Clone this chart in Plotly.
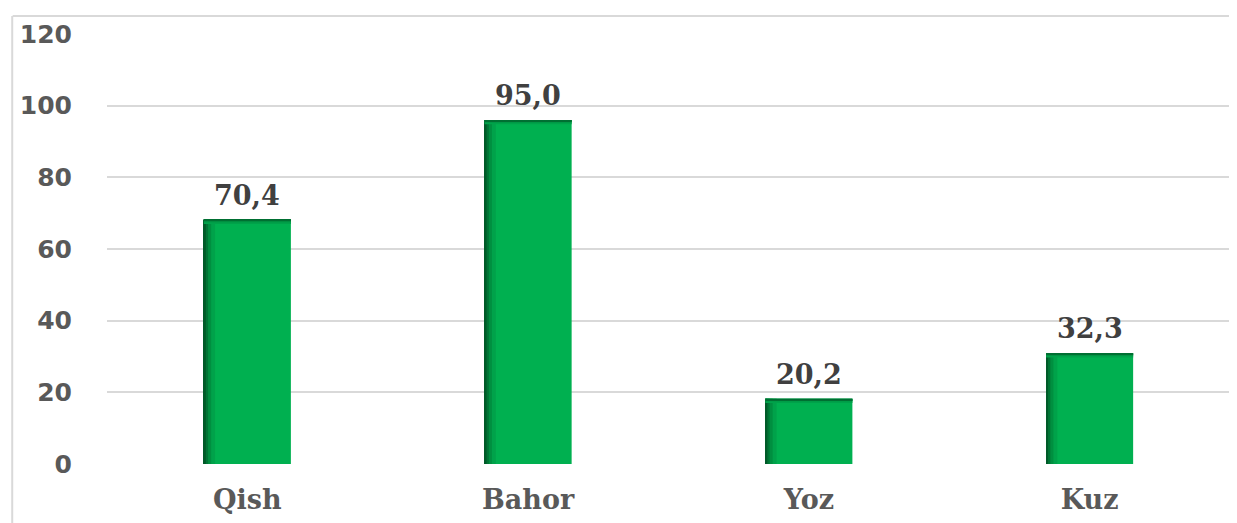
import plotly.graph_objects as go

categories = ["Qish", "Bahor", "Yoz", "Kuz"]
bar_values = [68.2, 96.0, 18.2, 30.9]
label_texts = ["70,4", "95,0", "20,2", "32,3"]
y_ticks = [0, 20, 40, 60, 80, 100, 120]

GREEN = "#00B050"
W = 0.31

fig = go.Figure()

# main bars
fig.add_trace(go.Bar(
    x=categories, y=bar_values, width=W, offset=-W / 2,
    marker=dict(color=GREEN, line=dict(width=0)),
    hoverinfo="skip",
))

# left edge shading (inner shadow)
for wd, col in [(0.040, "#00a24a"), (0.026, "#008f40"), (0.015, "#007535"), (0.007, "#005a28")]:
    fig.add_trace(go.Bar(
        x=categories, y=bar_values, width=wd, offset=-W / 2,
        marker=dict(color=col, line=dict(width=0)), hoverinfo="skip",
    ))

# top edge shading
for depth, col in [(1.2, "#00a24a"), (0.7, "#008f40"), (0.35, "#006f32")]:
    fig.add_trace(go.Bar(
        x=categories, y=[depth] * len(bar_values),
        base=[v - depth for v in bar_values], width=W, offset=-W / 2,
        marker=dict(color=col, line=dict(width=0)), hoverinfo="skip",
    ))

annotations = [
    dict(x=c, y=v, xref="x", yref="y", text=t, showarrow=False,
         yanchor="bottom", yshift=7,
         font=dict(family="DejaVu Serif", size=27, color="#404040", weight="bold"))
    for c, v, t in zip(categories, bar_values, label_texts)
]

# page body has an 8px margin; offsets below compensate for it
fig.update_layout(
    barmode="overlay",
    showlegend=False,
    width=1237, height=523,
    margin=dict(l=96, r=15, t=23, b=67),
    paper_bgcolor="white", plot_bgcolor="white",
    xaxis=dict(
        showgrid=False, showline=False, zeroline=False,
        tickfont=dict(family="DejaVu Serif", size=27, color="#595959", weight="bold"),
        ticklabelstandoff=17,
    ),
    yaxis=dict(
        range=[0, 120], tickvals=y_ticks,
        showgrid=True, gridcolor="#d9d9d9", gridwidth=1.5,
        zeroline=False, showline=False,
        tickfont=dict(family="DejaVu Sans", size=25, color="#595959", weight="bold"),
        ticklabelstandoff=34,
    ),
    annotations=annotations,
    shapes=[
        dict(type="line", xref="paper", yref="paper", x0=-0.084, x1=1.02, y0=1.0416, y1=1.0416,
             line=dict(color="#d9d9d9", width=2)),
        dict(type="line", xref="paper", yref="paper", x0=-0.0844, x1=-0.0844, y0=-0.2, y1=1.0416,
             line=dict(color="#d9d9d9", width=2)),
    ],
)

fig.write_html("out.html")
